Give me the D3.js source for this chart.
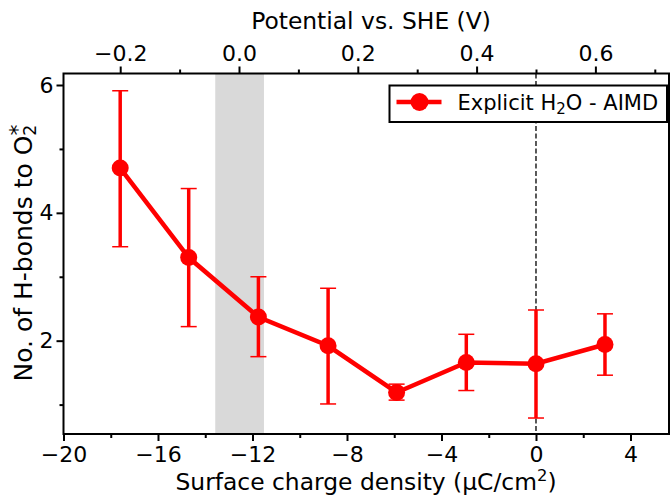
<!DOCTYPE html>
<html>
<head>
<meta charset="utf-8">
<script src="https://cdn.jsdelivr.net/npm/d3@7"></script>
<style>
  body { margin: 0; background: white; }
  svg { font-family: 'DejaVu Sans', sans-serif; }
</style>
</head>
<body>
<svg id="chart" width="671" height="496"></svg>
<script>
// surface charge density (uC/cm2) and H-bond counts
const charge = [-17.6, -14.7, -11.75, -8.8, -5.9, -2.95, 0, 2.92]
const hbonds = [4.70, 3.30, 2.37, 1.92, 1.19, 1.66, 1.64, 1.94]
const errLow = [3.47, 2.22, 1.75, 1.01, 1.07, 1.22, 0.79, 1.46]
const errHigh = [5.91, 4.38, 3.00, 2.82, 1.32, 2.10, 2.48, 2.42]
const xTicks = [-20, -16, -12, -8, -4, 0, 4]
const yTicks = [2, 4, 6]
const topTicks = [-0.2, 0.0, 0.2, 0.4, 0.6]
const band = [-0.04, 0.042]  // potential window shaded grey
const pzcPotential = 0.5     // potential at zero charge

const svg = d3.select('svg#chart')
const [mLeft, mRight, mTop, mBottom] = [63.5, 669, 73.5, 434]

const x = d3.scaleLinear().domain([-20, 5.63]).range([mLeft, mRight])
const y = d3.scaleLinear().domain([0.54, 6.18]).range([mBottom, mTop])
// potential axis, linear in charge: 0 uC/cm2 at 0.5 V, -17.6 at -0.2 V
const vPerCharge = (pzcPotential - (-0.2)) / (0 - charge[0])
const toV = c => pzcPotential + c * vPerCharge
const xTop = d3.scaleLinear().domain([toV(-20), toV(5.63)]).range([mLeft, mRight])

// grey band
svg.append('rect')
  .attr('x', xTop(band[0]))
  .attr('y', mTop)
  .attr('width', xTop(band[1]) - xTop(band[0]))
  .attr('height', mBottom - mTop)
  .attr('fill', '#d9d9d9')

// dashed line at zero charge
svg.append('line')
  .attr('x1', x(0)).attr('x2', x(0))
  .attr('y1', mTop).attr('y2', mBottom)
  .attr('stroke', 'black')
  .attr('stroke-width', 1.3)
  .attr('stroke-dasharray', '5,2.5')

// axes
const fontSize = '22px'
const styleAxis = (g) => {
  g.select('.domain').remove()
  g.selectAll('.tick line').attr('stroke', 'black').attr('stroke-width', 2)
  g.selectAll('.tick text').attr('fill', 'black').style('font-size', fontSize)
    .style('font-family', "'DejaVu Sans', sans-serif")
}
const minus = d => (d < 0 ? '\u2212' : '') + Math.abs(d)

const bottomAxis = svg.append('g')
  .attr('transform', `translate(0,${mBottom})`)
  .call(d3.axisBottom(x).tickValues(xTicks).tickSize(7).tickPadding(5.5).tickFormat(minus))
styleAxis(bottomAxis)
svg.append('g')
  .attr('transform', `translate(0,${mBottom})`)
  .call(d3.axisBottom(x).tickValues([-18, -14, -10, -6, -2, 2]).tickSize(4).tickFormat(''))
  .call(styleAxis)

const leftAxis = svg.append('g')
  .attr('transform', `translate(${mLeft},0)`)
  .call(d3.axisLeft(y).tickValues(yTicks).tickSize(7).tickPadding(3).tickFormat(d => d))
styleAxis(leftAxis)
svg.append('g')
  .attr('transform', `translate(${mLeft},0)`)
  .call(d3.axisLeft(y).tickValues([1, 3, 5]).tickSize(4).tickFormat(''))
  .call(styleAxis)

const topAxis = svg.append('g')
  .attr('transform', `translate(0,${mTop})`)
  .call(d3.axisTop(xTop).tickValues(topTicks).tickSize(7).tickPadding(6)
    .tickFormat(d => (d < 0 ? '\u2212' : '') + Math.abs(d).toFixed(1)))
styleAxis(topAxis)
svg.append('g')
  .attr('transform', `translate(0,${mTop})`)
  .call(d3.axisTop(xTop).tickValues([-0.1, 0.1, 0.3, 0.5, 0.7]).tickSize(4).tickFormat(''))
  .call(styleAxis)

// frame
svg.append('rect')
  .attr('x', mLeft).attr('y', mTop)
  .attr('width', mRight - mLeft).attr('height', mBottom - mTop)
  .attr('fill', 'none')
  .attr('stroke', 'black')
  .attr('stroke-width', 2)

// data
const data = charge.map((c, i) => ({ c, h: hbonds[i], lo: errLow[i], hi: errHigh[i] }))
const red = '#ff0000'

const bars = svg.append('g')
bars.selectAll('.err').data(data).enter().append('line')
  .attr('x1', d => x(d.c)).attr('x2', d => x(d.c))
  .attr('y1', d => y(d.lo)).attr('y2', d => y(d.hi))
  .attr('stroke', red).attr('stroke-width', 3.5)
bars.selectAll('.cap-hi').data(data).enter().append('line')
  .attr('x1', d => x(d.c) - 8).attr('x2', d => x(d.c) + 8)
  .attr('y1', d => y(d.hi)).attr('y2', d => y(d.hi))
  .attr('stroke', red).attr('stroke-width', 1.5)
bars.selectAll('.cap-lo').data(data).enter().append('line')
  .attr('x1', d => x(d.c) - 8).attr('x2', d => x(d.c) + 8)
  .attr('y1', d => y(d.lo)).attr('y2', d => y(d.lo))
  .attr('stroke', red).attr('stroke-width', 1.5)

svg.append('path')
  .datum(data)
  .attr('d', d3.line().x(d => x(d.c)).y(d => y(d.h)))
  .attr('fill', 'none')
  .attr('stroke', red)
  .attr('stroke-width', 4.5)

svg.selectAll('.pt').data(data).enter().append('circle')
  .attr('cx', d => x(d.c)).attr('cy', d => y(d.h))
  .attr('r', 8.5)
  .attr('fill', red)

// legend
const legend = svg.append('g').attr('transform', 'translate(389.5,85.5)')
legend.append('rect')
  .attr('width', 277.5).attr('height', 36.5)
  .attr('fill', 'white')
  .attr('stroke', 'black').attr('stroke-width', 2)
legend.append('line')
  .attr('x1', 7).attr('x2', 52).attr('y1', 16.5).attr('y2', 16.5)
  .attr('stroke', red).attr('stroke-width', 4.5)
legend.append('circle').attr('cx', 30).attr('cy', 16.5).attr('r', 9).attr('fill', red)
const lt = legend.append('text')
  .attr('x', 68).attr('y', 24.5)
  .style('font-size', '21px')
lt.append('tspan').text('Explicit H')
lt.append('tspan').attr('dy', 4).style('font-size', '15px').text('2')
lt.append('tspan').attr('dy', -4).text('O - AIMD')

// axis labels
svg.append('text')
  .attr('x', 371).attr('y', 29)
  .attr('text-anchor', 'middle')
  .style('font-size', '23.4px')
  .text('Potential vs. SHE (V)')

const xl = svg.append('text')
  .attr('x', 366).attr('y', 490)
  .attr('text-anchor', 'middle')
  .style('font-size', '23.4px')
xl.append('tspan').text('Surface charge density (\u03bcC/cm')
xl.append('tspan').attr('dy', -9).style('font-size', '16.4px').text('2')
xl.append('tspan').attr('dy', 9).text(')')

const yl = svg.append('text')
  .attr('transform', `translate(32,253) rotate(-90)`)
  .attr('text-anchor', 'middle')
  .style('font-size', '25px')
yl.append('tspan').text('No. of H-bonds to O')
yl.append('tspan').attr('dy', 4).style('font-size', '17.5px').text('2')
yl.append('tspan').attr('dx', -11).attr('dy', -11).style('font-size', '22px').text('*')
</script>
</body>
</html>
